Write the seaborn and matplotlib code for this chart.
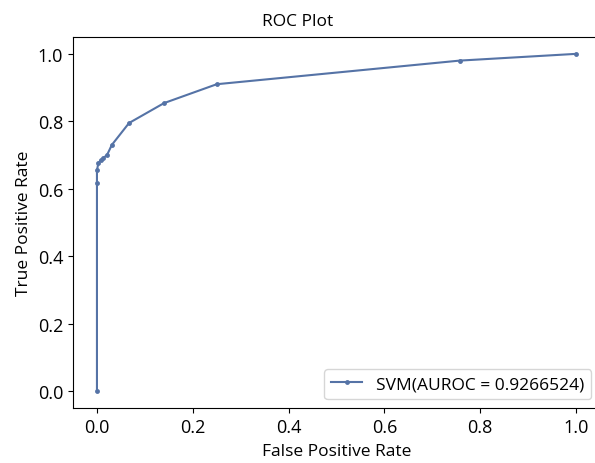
import numpy as np
import pandas as pd
import matplotlib
matplotlib.use("Agg")
import matplotlib.pyplot as plt
import seaborn as sns

# ROC points
fpr = [0.0, 0.0, 0.0, 0.003, 0.008, 0.012, 0.021, 0.031, 0.067, 0.140, 0.250, 0.757, 1.0]
tpr = [0.0, 0.618, 0.655, 0.676, 0.685, 0.690, 0.700, 0.730, 0.795, 0.854, 0.910, 0.980, 1.0]
label = "SVM(AUROC = 0.9266524)"

df = pd.DataFrame({"fpr": fpr, "tpr": tpr})

plt.rcParams["font.family"] = ["Open Sans", "DejaVu Sans"]
plt.rcParams["font.size"] = 12.5

fig = plt.figure(figsize=(5.95, 4.64), dpi=100)
ax = fig.add_axes([73 / 595, 55 / 464, 527 / 595, 371 / 464])
sns.lineplot(data=df, x="fpr", y="tpr", estimator=None, sort=False,
             marker=".", markersize=7, markeredgewidth=0, color="#5573A6",
             linewidth=1.5, label=label, ax=ax)
fig.suptitle("ROC Plot", x=0.5, y=1 - 14 / 464, va="top", fontsize=12.5)
ax.set_xlabel("False Positive Rate", labelpad=5)
ax.set_ylabel("True Positive Rate", labelpad=4)
ax.tick_params(labelsize=13)
ax.set_xlim(-0.05, 1.05)
ax.set_ylim(-0.05, 1.05)
ax.legend(loc="lower right", fontsize=12.5, handlelength=1.8)
fig.savefig("out.png", dpi=100)
